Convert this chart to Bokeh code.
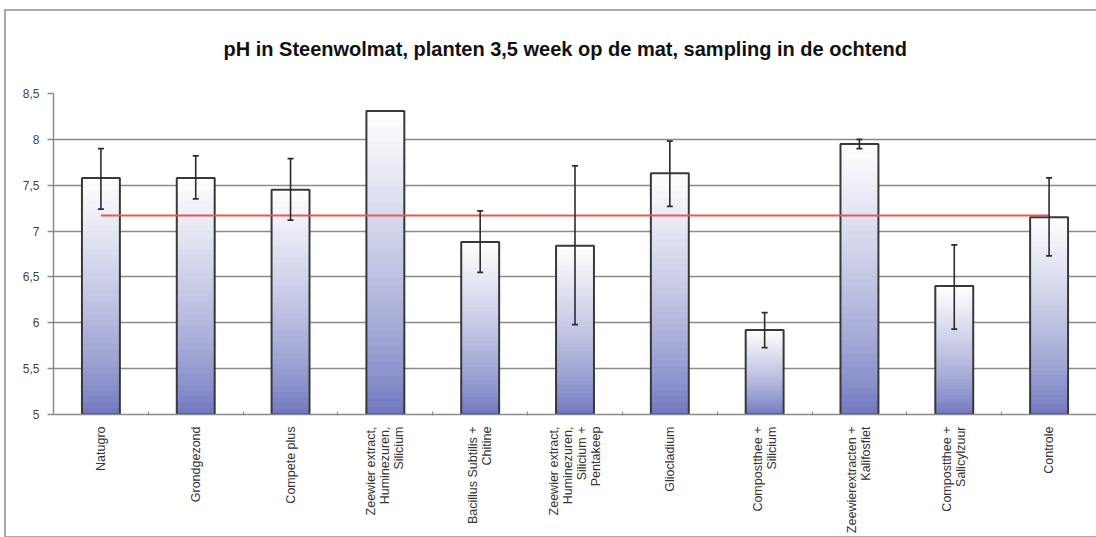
import math
from bokeh.plotting import figure
from bokeh.models import FixedTicker, Range1d, Whisker, ColumnDataSource, TeeHead, InlineStyleSheet
from bokeh.embed import file_html
from bokeh.resources import INLINE

# ---- data ----
categories = [
    "Natugro",
    "Grondgezond",
    "Compete plus",
    "Zeewier extract,\nHuminezuren,\nSilicium",
    "Bacillus Subtilis +\nChitine",
    "Zeewier extract,\nHuminezuren,\nSilicium +\nPentakeep",
    "Gliocladium",
    "Compostthee +\nSilicium",
    "Zeewierextracten +\nKalifosfiet",
    "Compostthee +\nSalicylzuur",
    "Controle",
]
ph_mean = [7.58, 7.58, 7.45, 8.31, 6.88, 6.84, 7.63, 5.92, 7.95, 6.40, 7.15]
err_upper = [7.90, 7.82, 7.79, None, 7.22, 7.71, 7.98, 6.11, 8.00, 6.85, 7.58]
err_lower = [7.24, 7.35, 7.12, None, 6.55, 5.98, 7.27, 5.73, 7.90, 5.93, 6.73]
reference_ph = 7.17
y_ticks = [5, 5.5, 6, 6.5, 7, 7.5, 8, 8.5]
y_tick_labels = ["5", "5,5", "6", "6,5", "7", "7,5", "8", "8,5"]
title_text = "pH in Steenwolmat, planten 3,5 week op de mat, sampling in de ochtend"

# ---- styling ----
Y0 = 5.0
BAR_W = 0.4
TOP_RGB = (255, 255, 255)
BOT_RGB = (108, 116, 190)

n = len(categories)
centers = [i + 0.5 for i in range(n)]
boundaries = [float(i) for i in range(1, n)]

frame_css = InlineStyleSheet(css="""
:host { position: relative; }
:host::after {
  content: "";
  position: absolute;
  left: 4px; top: 9px; width: 1200px; height: 525px;
  border: 2px solid #a9a9a9;
  pointer-events: none;
}
""")

p = figure(width=1096, height=537, output_backend="svg", toolbar_location=None,
           x_range=Range1d(0, n), y_range=Range1d(5, 8.5),
           min_border_left=53, min_border_right=0, min_border_top=93,
           min_border_bottom=123, stylesheets=[frame_css])
p.background_fill_color = "white"
p.border_fill_color = "white"
p.outline_line_color = None

# title
p.title.text = title_text
p.title.text_font = "Liberation Sans"
p.title.text_font_style = "bold"
p.title.text_font_size = "20px"
p.title.text_color = "#111111"
p.title.align = "left"
p.title.offset = 170
p.title.standoff = 68

# gradient bars (per-bar vertical gradient built from each value)
N = 40
lefts, rights, bots, tops, cols = [], [], [], [], []
for c, v in zip(centers, ph_mean):
    h = v - Y0
    dh = h / N
    for k in range(N):
        t = (k + 0.5) / N
        f = t ** 0.75
        r = int(BOT_RGB[0] + (TOP_RGB[0] - BOT_RGB[0]) * f)
        g = int(BOT_RGB[1] + (TOP_RGB[1] - BOT_RGB[1]) * f)
        b = int(BOT_RGB[2] + (TOP_RGB[2] - BOT_RGB[2]) * f)
        lefts.append(c - BAR_W / 2)
        rights.append(c + BAR_W / 2)
        bots.append(Y0 + dh * k)
        tops.append(min(v, Y0 + dh * (k + 2)))
        cols.append("#%02x%02x%02x" % (r, g, b))
p.quad(left=lefts, right=rights, bottom=bots, top=tops, fill_color=cols, line_color=None)

p.vbar(x=centers, top=ph_mean, bottom=Y0, width=BAR_W, fill_color=None,
       line_color="#383838", line_width=2)

# reference line
p.line(x=[centers[0], centers[-1]], y=[reference_ph, reference_ph],
       line_color="#e45a54", line_width=1.8)

# error bars
ex = [c for c, u in zip(centers, err_upper) if u is not None]
eu = [u for u in err_upper if u is not None]
el = [l for l in err_lower if l is not None]
src = ColumnDataSource(dict(x=ex, upper=eu, lower=el))
wh = Whisker(base="x", upper="upper", lower="lower", source=src, level="overlay",
             line_color="#2c2c2c", line_width=1.6,
             upper_head=TeeHead(size=6, line_color="#2c2c2c", line_width=1.8),
             lower_head=TeeHead(size=6, line_color="#2c2c2c", line_width=1.8))
p.add_layout(wh)

# y axis
p.yaxis.ticker = FixedTicker(ticks=y_ticks)
p.yaxis.major_label_overrides = {t: l for t, l in zip(y_ticks, y_tick_labels)}
p.yaxis.axis_line_color = "#8a8a8a"
p.yaxis.axis_line_width = 1.5
p.yaxis.major_tick_line_color = "#8a8a8a"
p.yaxis.major_tick_line_width = 1.5
p.yaxis.major_tick_out = 6
p.yaxis.major_tick_in = 0
p.yaxis.minor_tick_line_color = None
p.yaxis.major_label_text_font = "Liberation Sans"
p.yaxis.major_label_text_font_size = "12px"
p.yaxis.major_label_text_color = "#444444"
p.yaxis.major_label_standoff = 8

# x axis
p.xaxis.ticker = FixedTicker(ticks=centers, minor_ticks=boundaries)
p.xaxis.major_label_overrides = {c: l for c, l in zip(centers, categories)}
p.xaxis.major_label_orientation = math.pi / 2
p.xaxis.axis_line_color = "#8a8a8a"
p.xaxis.axis_line_width = 1.5
p.xaxis.major_tick_line_color = None
p.xaxis.minor_tick_line_color = "#8a8a8a"
p.xaxis.minor_tick_in = 3
p.xaxis.minor_tick_out = 1
p.xaxis.major_label_text_font = "Liberation Sans"
p.xaxis.major_label_text_font_size = "12.5px"
p.xaxis.major_label_text_line_height = 1.0
p.xaxis.major_label_text_color = "#333333"
p.xaxis.major_label_standoff = 6

# grid
p.xgrid.visible = False
p.ygrid.ticker = FixedTicker(ticks=y_ticks)
p.ygrid.grid_line_color = "#8a8a8a"
p.ygrid.grid_line_width = 1.4

open("out.html", "w").write(file_html(p, INLINE))
